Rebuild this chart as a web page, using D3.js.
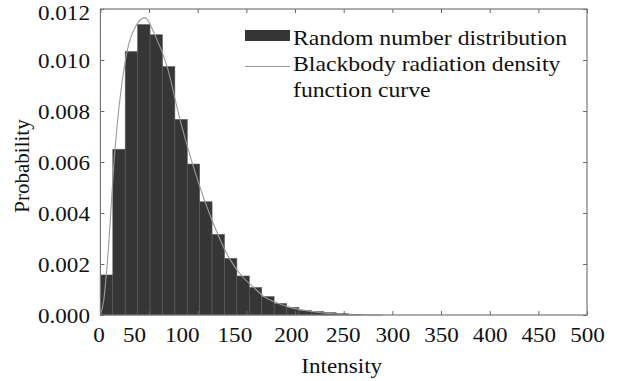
<!DOCTYPE html>
<html>
<head>
<meta charset="utf-8">
<script src="https://cdn.jsdelivr.net/npm/d3@7"></script>
<style>
  html, body { margin: 0; padding: 0; background: #fff; }
  svg text { font-family: "Liberation Serif"; fill: #111; }
</style>
</head>
<body>
<svg id="chart" width="627" height="381" font-family="Liberation Serif"></svg>
<script>
// ---- data ----
const binWidth = 12.75;
const binProbabilities = [
  0.00157, 0.0065, 0.01033, 0.01139, 0.01099, 0.00974, 0.00767, 0.00592,
  0.00444, 0.00316, 0.00222, 0.00153, 0.00108, 0.00072, 0.00045, 0.0003,
  0.00018, 0.00013, 0.00009, 0.00005, 0.00002
];
const curveX = [0, 3.5, 6.8, 15, 27.4, 36, 45.8, 56, 68.6, 81.7, 94.7, 107.5, 120.7, 132.5, 145.3, 157.6, 168, 180, 195, 210, 225, 240, 260, 290];
const curveY = [0, 0.0006, 0.0019, 0.0065, 0.01033, 0.0113, 0.01166, 0.01098, 0.00974, 0.00767, 0.00592, 0.00444, 0.00316, 0.00222, 0.00153, 0.00108, 0.00072, 0.0005, 0.0003, 0.00018, 0.0001, 0.00005, 0.00002, 0];
const xTicks = [0, 50, 100, 150, 200, 250, 300, 350, 400, 450, 500];
const yTicks = [0, 0.002, 0.004, 0.006, 0.008, 0.010, 0.012];
const legendLabels = ["Random number distribution", "Blackbody radiation density", "function curve"];
const xLabel = "Intensity";
const yLabel = "Probability";

// ---- layout ----
const svg = d3.select("#chart");
const L = 100.4, R = 587, T = 9, B = 315;
const SX = 1.1; // horizontal stretch of the original type
const fontSize = 21;
const FONT = '"Liberation Serif", "Times New Roman", Tinos, serif';
// small horizontal shifts of some x tick labels, as placed in the original figure
const xLabelShift = {0: -2, 50: -15, 100: -16, 150: -12, 200: -4, 250: -1};

const x = d3.scaleLinear().domain([0, 500]).range([L, R]);
const y = d3.scaleLinear().domain([0, 0.012]).range([B, T]);

// bars
svg.append("g").selectAll("rect")
  .data(binProbabilities)
  .join("rect")
  .attr("x", (d, i) => x(i * binWidth))
  .attr("width", (d, i) => x((i + 1) * binWidth) - x(i * binWidth))
  .attr("y", d => y(d))
  .attr("height", d => y(0) - y(d))
  .attr("fill", "#363636")
  .attr("stroke", "#5a5a5a")
  .attr("stroke-width", 0.6);

// curve
const pts = curveX.map((v, i) => [v, curveY[i]]);
svg.append("path")
  .datum(pts)
  .attr("fill", "none")
  .attr("stroke", "#9a9a9a")
  .attr("stroke-width", 1.1)
  .attr("d", d3.line().x(d => x(d[0])).y(d => y(d[1])).curve(d3.curveMonotoneX));

// axes (ticks inside)
const fmtY = d3.format(".3f");
const axB = svg.append("g").attr("transform", `translate(0,${B})`)
  .call(d3.axisBottom(x).tickValues(xTicks).tickSizeInner(-4).tickSizeOuter(0).tickPadding(12));
const axT = svg.append("g").attr("transform", `translate(0,${T})`)
  .call(d3.axisTop(x).tickValues(xTicks).tickSizeInner(-4).tickSizeOuter(0).tickFormat(""));
const axL = svg.append("g").attr("transform", `translate(${L},0)`)
  .call(d3.axisLeft(y).tickValues(yTicks).tickSizeInner(-4).tickSizeOuter(0).tickPadding(9.5).tickFormat(fmtY));
const axR = svg.append("g").attr("transform", `translate(${R},0)`)
  .call(d3.axisRight(y).tickValues(yTicks).tickSizeInner(-4).tickSizeOuter(0).tickFormat(""));

[axB, axT, axL, axR].forEach(g => {
  g.attr("font-family", FONT);
  g.select(".domain").remove();
  g.selectAll(".tick line").attr("stroke", "#666").attr("stroke-width", 1);
  g.selectAll(".tick text")
    .style("font-family", FONT)
    .attr("font-size", fontSize).attr("fill", "#111");
});
axB.selectAll(".tick text")
  .attr("transform", d => `translate(${xLabelShift[d] || 0},0) scale(${SX},1)`)
  .attr("dy", "0.72em");
axL.selectAll(".tick text").attr("transform", `scale(${SX},1)`).attr("dy", "0.34em");
axL.selectAll(".tick").filter(d => d === 0.012).select("text").attr("dy", "0.5em");

// frame
svg.append("rect")
  .attr("x", L).attr("y", T).attr("width", R - L).attr("height", B - T)
  .attr("fill", "none").attr("stroke", "#777").attr("stroke-width", 1.2);

// axis titles
svg.append("text")
  .style("font-family", FONT)
  .attr("transform", `translate(${(L + R) / 2 - 2},373) scale(${SX},1)`)
  .attr("text-anchor", "middle").attr("font-size", fontSize)
  .text(xLabel);
svg.append("text")
  .style("font-family", FONT)
  .attr("transform", `translate(29,166) rotate(-90)`)
  .attr("text-anchor", "middle").attr("font-size", fontSize)
  .text(yLabel);

// legend
const lg = svg.append("g");
lg.append("rect").attr("x", 245).attr("y", 30).attr("width", 45).attr("height", 11)
  .attr("fill", "#363636");
lg.append("line").attr("x1", 245).attr("x2", 290).attr("y1", 66.5).attr("y2", 66.5)
  .attr("stroke", "#9a9a9a").attr("stroke-width", 1.1);
const lgY = [45, 71, 97];
legendLabels.forEach((t, i) => {
  lg.append("text")
    .style("font-family", FONT)
    .attr("transform", `translate(293,${lgY[i]}) scale(1.13,1)`)
    .attr("font-size", fontSize)
    .text(t);
});
</script>
</body>
</html>
